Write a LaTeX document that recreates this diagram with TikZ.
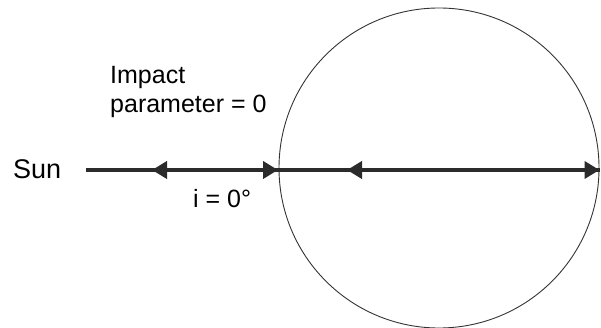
\documentclass[tikz,border=0pt]{standalone}
\usepackage{fontspec}
\setmainfont{Liberation Sans}
\usetikzlibrary{arrows.meta}
\definecolor{arrowgray}{HTML}{2B2B2B}
\begin{document}
\begin{tikzpicture}[x=1pt,y=-1pt,
  beam/.style={line width=4pt,color=arrowgray,-{Triangle[length=15pt,width=17pt]}},
  lbl/.style={font=\fontsize{25}{29}\selectfont,inner sep=0pt,align=left}]
\useasboundingbox (0,0) rectangle (601,328);
\node[draw=black!80,line width=0.9pt,circle,minimum size=320pt,inner sep=0pt] (planet) at (439,168) {};
\coordinate (start) at (86,170);
\coordinate (lhead) at (152,170);
\coordinate (edge) at (278,170);
\coordinate (rhead) at (347,170);
\coordinate (far) at (599.5,170);
\draw[beam] (edge) -- (lhead);
\draw[beam] (start) -- (edge);
\draw[beam] (far) -- (rhead);
\draw[beam] (edge) -- (far);
\node[lbl,anchor=base west,font=\fontsize{27}{30}\selectfont] (sun) at (13,179) {Sun};
\node[lbl,anchor=base west] (impact) at (110,113) {Impact\\parameter = 0};
\node[lbl,anchor=base west] (incl) at (193,208) {i = 0°};
\end{tikzpicture}
\end{document}
